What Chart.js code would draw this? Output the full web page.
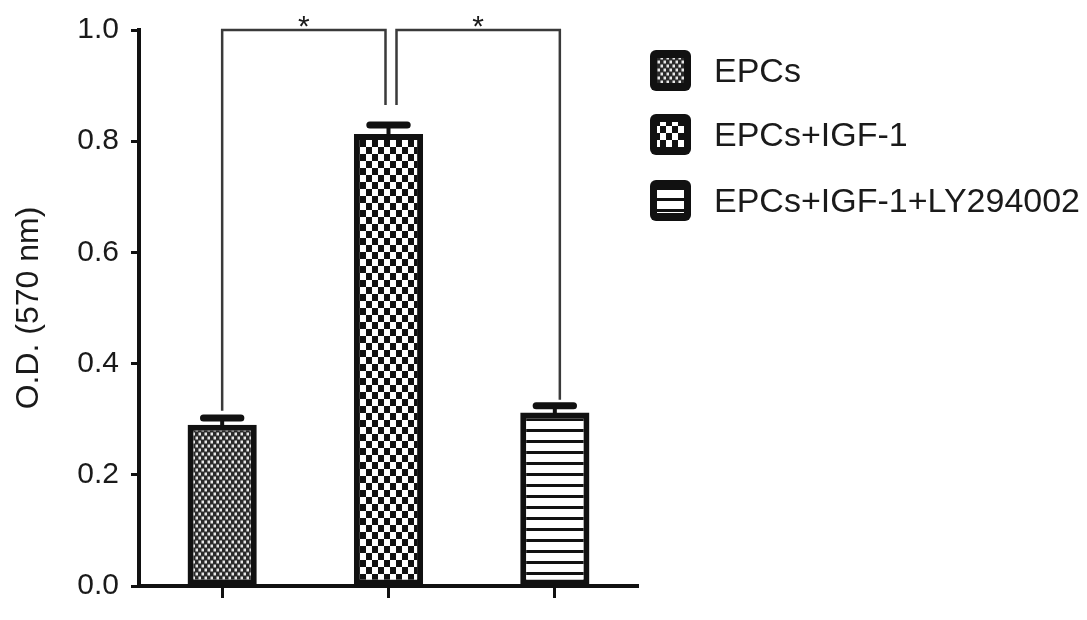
<!DOCTYPE html>
<html>
<head>
<meta charset="utf-8">
<script src="https://cdn.jsdelivr.net/npm/chart.js@4.4.0/dist/chart.umd.min.js"></script>
<style>
  html, body { margin: 0; padding: 0; background: #fff; }
  #wrap { position: relative; width: 1087px; height: 620px; }
</style>
</head>
<body>
<div id="wrap"><canvas id="odChart"></canvas></div>
<script>
const groups = ["EPCs", "EPCs+IGF-1", "EPCs+IGF-1+LY294002"];
const odMeans = [0.29, 0.813, 0.312];
const odErrors = [0.012, 0.016, 0.012];
const yTicks = [0.0, 0.2, 0.4, 0.6, 0.8, 1.0];
// significance brackets: from group, to group, top level, leg ends
const brackets = [
  { from: 0, to: 1, top: 1.0, legs: [0.315, 0.865], label: "*" },
  { from: 1, to: 2, top: 1.0, legs: [0.865, 0.335], label: "*" }
];

const FONT = "'Liberation Sans', Arial, sans-serif";
const INK = "#1a1a1a";

function makePattern(w, h, draw) {
  const c = document.createElement("canvas");
  c.width = w;
  c.height = h;
  const g = c.getContext("2d");
  draw(g);
  return document.createElement("canvas").getContext("2d").createPattern(c, "repeat");
}

// fine dotted fill
const dotFill = makePattern(6, 8, (g) => {
  g.fillStyle = "#2a2a2a";
  g.fillRect(0, 0, 6, 8);
  g.fillStyle = "#e8e8e8";
  g.fillRect(0.5, 0.5, 2.5, 3);
  g.fillRect(3.5, 4.5, 2.5, 3);
});
// checkerboard fill
const checkFill = makePattern(12, 14, (g) => {
  g.fillStyle = "#fff";
  g.fillRect(0, 0, 12, 14);
  g.fillStyle = "#111";
  g.fillRect(0, 0, 6, 7);
  g.fillRect(6, 7, 6, 7);
});
// horizontal stripes
const stripeFill = makePattern(8, 11, (g) => {
  g.fillStyle = "#fff";
  g.fillRect(0, 0, 8, 11);
  g.fillStyle = "#111";
  g.fillRect(0, 0, 8, 3);
});
const fills = [dotFill, checkFill, stripeFill];

const errorBars = {
  id: "errorBars",
  afterDatasetsDraw(chart) {
    const ctx = chart.ctx;
    const meta = chart.getDatasetMeta(0);
    const y = chart.scales.y;
    ctx.save();
    ctx.strokeStyle = "#111";
    ctx.lineCap = "round";
    meta.data.forEach((bar, i) => {
      const top = y.getPixelForValue(odMeans[i] + odErrors[i]);
      const half = bar.width * 0.27;
      ctx.lineWidth = 4;
      ctx.beginPath();
      ctx.moveTo(bar.x, bar.y);
      ctx.lineTo(bar.x, top);
      ctx.stroke();
      ctx.lineWidth = 7;
      ctx.beginPath();
      ctx.moveTo(bar.x - half, top);
      ctx.lineTo(bar.x + half, top);
      ctx.stroke();
    });
    ctx.restore();
  }
};

const sigBrackets = {
  id: "sigBrackets",
  afterDraw(chart) {
    const ctx = chart.ctx;
    const meta = chart.getDatasetMeta(0);
    const y = chart.scales.y;
    ctx.save();
    ctx.strokeStyle = "#3a3a3a";
    ctx.lineWidth = 2.5;
    ctx.fillStyle = INK;
    ctx.font = "30px " + FONT;
    ctx.textAlign = "center";
    ctx.textBaseline = "alphabetic";
    brackets.forEach((b, k) => {
      const x1 = meta.data[b.from].x + (k === 0 ? 0 : 8);
      const x2 = meta.data[b.to].x + (k === 0 ? -3 : 5);
      const yt = y.getPixelForValue(b.top);
      ctx.beginPath();
      ctx.moveTo(x1, y.getPixelForValue(b.legs[0]));
      ctx.lineTo(x1, yt);
      ctx.lineTo(x2, yt);
      ctx.lineTo(x2, y.getPixelForValue(b.legs[1]));
      ctx.stroke();
      ctx.fillText(b.label, (x1 + x2) / 2, yt + 6);
    });
    ctx.restore();
  }
};

const sideLegend = {
  id: "sideLegend",
  afterDraw(chart) {
    const ctx = chart.ctx;
    const boxX = 650, size = 41;
    const rows = [50, 114, 180];
    ctx.save();
    groups.forEach((name, i) => {
      const top = rows[i];
      ctx.fillStyle = "#111";
      ctx.beginPath();
      ctx.roundRect(boxX, top, size, size, 6);
      ctx.fill();
      ctx.fillStyle = fills[i];
      ctx.fillRect(boxX + 7, top + 8, size - 14, size - 16);
      ctx.fillStyle = INK;
      ctx.font = "34px " + FONT;
      ctx.textAlign = "left";
      ctx.textBaseline = "middle";
      ctx.fillText(name, 714, top + size / 2 + 2);
    });
    ctx.restore();
  }
};

const ctx = document.getElementById("odChart").getContext("2d");
new Chart(ctx, {
  type: "bar",
  data: {
    labels: groups,
    datasets: [
      {
        data: odMeans,
        backgroundColor: fills,
        borderColor: "#111",
        borderWidth: 6,
        borderSkipped: false,
        categoryPercentage: 1,
        barPercentage: 0.416
      }
    ]
  },
  options: {
    responsive: true,
    maintainAspectRatio: false,
    animation: false,
    layout: { padding: { left: 0, right: 449, top: 30, bottom: 0 } },
    plugins: {
      legend: { display: false },
      tooltip: { enabled: false }
    },
    scales: {
      x: {
        offset: true,
        border: { color: "#111", width: 4 },
        grid: {
          offset: false,
          drawOnChartArea: false,
          tickLength: 12,
          tickWidth: 3,
          tickColor: "#111"
        },
        ticks: { display: false },
        afterFit(axis) { axis.height = 34; }
      },
      y: {
        min: 0,
        max: 1.0,
        afterBuildTicks(axis) {
          axis.ticks = yTicks.map((v) => ({ value: v }));
        },
        border: { color: "#111", width: 4 },
        grid: {
          drawOnChartArea: false,
          tickLength: 8,
          tickWidth: 3,
          tickColor: "#111"
        },
        ticks: {
          color: INK,
          padding: 12,
          font: { size: 30, family: FONT },
          callback: (v) => Number(v).toFixed(1)
        },
        title: {
          display: true,
          text: "O.D. (570 nm)",
          color: INK,
          font: { size: 32, family: FONT },
          padding: { top: 10, bottom: 6 }
        },
        afterFit(axis) { axis.width = 139; }
      }
    }
  },
  plugins: [errorBars, sigBrackets, sideLegend]
});
</script>
</body>
</html>
